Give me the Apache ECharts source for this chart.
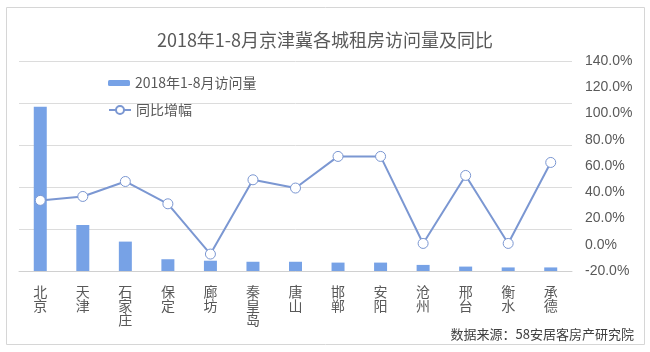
<!DOCTYPE html>
<html>
<head>
<meta charset="utf-8">
<script src="https://cdn.jsdelivr.net/npm/echarts@6/dist/echarts.min.js"></script>
<style>
  html, body { margin: 0; padding: 0; background: #fff; }
  #chart { width: 650px; height: 352px; }
</style>
</head>
<body>
<div id="chart"></div>
<script>
// 城市
var cities = ['北京', '天津', '石家庄', '保定', '廊坊', '秦皇岛', '唐山', '邯郸', '安阳', '沧州', '邢台', '衡水', '承德'];
// 访问量（相对值，原图左轴无刻度）
var visits = [782, 219, 140, 56, 49, 44, 44, 40, 40, 29, 21, 17, 17];
// 同比增幅 %
var growth = [33.8, 36.8, 48.2, 31.2, -7.1, 49.5, 43.2, 67.3, 67.3, 1.0, 52.8, 1.0, 62.7];

var fontCJK = '"Noto Sans CJK SC", "Noto Sans", sans-serif';
var textColor = '#595959';

var myChart = echarts.init(document.getElementById('chart'));
var option = {
    backgroundColor: '#fff',
    animation: false,
    title: {
        text: '2018年1-8月京津冀各城租房访问量及同比',
        left: 'center',
        top: 26,
        textStyle: {
            fontFamily: fontCJK,
            fontSize: 18,
            fontWeight: 'normal',
            color: textColor
        }
    },
    legend: [{
        data: ['2018年1-8月访问量'],
        left: 103,
        top: 71,
        itemWidth: 22,
        itemHeight: 6,
        itemGap: 4,
        textStyle: { fontFamily: fontCJK, fontSize: 14, color: textColor }
    }, {
        data: ['同比增幅'],
        left: 103,
        top: 98,
        itemWidth: 22,
        itemHeight: 10,
        textStyle: { fontFamily: fontCJK, fontSize: 14, color: textColor }
    }],
    grid: {
        left: 19,
        right: 78,
        top: 61,
        bottom: 81
    },
    xAxis: {
        type: 'category',
        data: cities,
        axisLine: { lineStyle: { color: '#d0d0d0' } },
        axisTick: { show: false },
        axisLabel: {
            interval: 0,
            margin: 14,
            fontFamily: fontCJK,
            fontSize: 14,
            lineHeight: 14,
            color: textColor,
            formatter: function (v) { return v.split('').join('\n'); }
        }
    },
    yAxis: [{
        type: 'value',
        min: 0,
        max: 1000,
        interval: 200,
        axisLine: { show: false },
        axisTick: { show: false },
        axisLabel: { show: false },
        splitLine: { lineStyle: { color: '#dcdcdc' } }
    }, {
        type: 'value',
        position: 'right',
        min: -20,
        max: 140,
        interval: 20,
        axisLine: { show: false },
        axisTick: { show: false },
        splitLine: { show: false },
        axisLabel: {
            margin: 13,
            fontFamily: '"Liberation Sans", Arial, sans-serif',
            fontSize: 14,
            color: textColor,
            formatter: function (v) { return v.toFixed(1) + '%'; }
        }
    }],
    series: [{
        name: '2018年1-8月访问量',
        type: 'bar',
        barWidth: 13,
        yAxisIndex: 0,
        itemStyle: { color: '#77a2e6' },
        data: visits
    }, {
        name: '同比增幅',
        type: 'line',
        yAxisIndex: 1,
        symbol: 'circle',
        symbolSize: 10,
        lineStyle: { color: '#7b97d2', width: 2 },
        itemStyle: { color: '#fff', borderColor: '#7b97d2', borderWidth: 1 },
        data: growth
    }],
    graphic: [{
        type: 'rect',
        shape: { x: 6.5, y: 7.5, width: 638, height: 337 },
        style: { fill: 'none', stroke: '#d6d6d6', lineWidth: 1 },
        z: -1
    }, {
        type: 'text',
        right: 16,
        top: 328,
        style: {
            text: '数据来源：58安居客房产研究院',
            fontFamily: fontCJK,
            fontSize: 13,
            fill: '#404040'
        }
    }]
};
myChart.setOption(option);
window.addEventListener('resize', function () { myChart.resize(); });
</script>
</body>
</html>
